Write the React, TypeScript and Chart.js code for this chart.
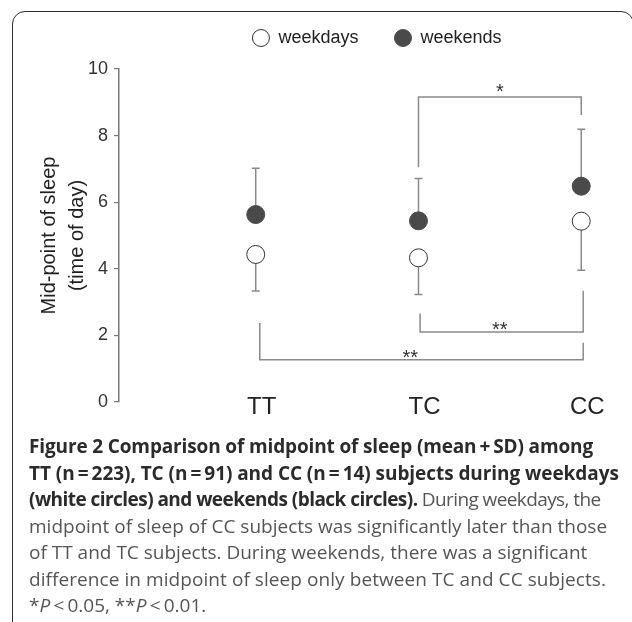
import React, { useEffect, useRef } from "react";
import { Chart, registerables } from "chart.js";

Chart.register(...registerables);

// ---- data ----
const categories = ["TT", "TC", "CC"];
const weekdaysMean = [4.43, 4.33, 5.43];
const weekdaysSD = [1.1, 1.1, 1.47];
const weekendsMean = [5.63, 5.44, 6.48];
const weekendsSD = [1.39, 1.27, 1.71];
const yTickValues = [0, 2, 4, 6, 8, 10];

// significance brackets (x in category-index units, y in axis units)
const bracketLeftX = [1.0, 1.01, 0.025];
const bracketRightX = [2.0, 2.012, 2.012];
const bracketY = [9.16, 2.1, 1.27];
const bracketLeftEnd = [7.05, 2.66, 2.37];
const bracketRightEnd = [8.62, 3.34, 1.78];
const bracketLabel = ["*", "**", "**"];
const bracketLabelX = [1.5, 1.5, 0.95];
const bracketLabelY = [9.47, 2.33, 1.5];

const FONT = "'Liberation Sans', Arial, Helvetica, sans-serif";
const LEGEND_HEIGHT = 76;
const CANVAS_W = 754;
const CANVAS_H = 460;

const legendSpacer = {
  id: "legendSpacer",
  beforeInit(chart: any) {
    const legend = chart.legend;
    if (!legend) return;
    const origFit = legend.fit;
    legend.fit = function () {
      origFit.call(this);
      this.height = LEGEND_HEIGHT;
    };
  },
};

const annotations = {
  id: "annotations",
  beforeDatasetsDraw(chart: any) {
    const { ctx } = chart;
    const x = chart.scales.x;
    const y = chart.scales.y;
    ctx.save();
    ctx.strokeStyle = "#8a8a8a";
    ctx.lineWidth = 1.5;
    const bar = (i: number, mean: number, end: number) => {
      const px = x.getPixelForValue(i);
      const y0 = y.getPixelForValue(mean);
      const y1 = y.getPixelForValue(end);
      ctx.beginPath();
      ctx.moveTo(px, y0);
      ctx.lineTo(px, y1);
      ctx.moveTo(px - 4, y1);
      ctx.lineTo(px + 4, y1);
      ctx.stroke();
    };
    categories.forEach((_, i) => {
      bar(i, weekdaysMean[i], weekdaysMean[i] - weekdaysSD[i]);
      bar(i, weekendsMean[i], weekendsMean[i] + weekendsSD[i]);
    });
    bracketY.forEach((by, k) => {
      const lx = x.getPixelForValue(bracketLeftX[k]);
      const rx = x.getPixelForValue(bracketRightX[k]);
      const py = y.getPixelForValue(by);
      ctx.beginPath();
      ctx.moveTo(lx, y.getPixelForValue(bracketLeftEnd[k]));
      ctx.lineTo(lx, py);
      ctx.lineTo(rx, py);
      ctx.lineTo(rx, y.getPixelForValue(bracketRightEnd[k]));
      ctx.stroke();
      const fs = 20;
      ctx.font = `${fs}px ${FONT}`;
      ctx.fillStyle = "#333";
      ctx.textAlign = "center";
      ctx.textBaseline = "alphabetic";
      ctx.fillText(
        bracketLabel[k],
        x.getPixelForValue(bracketLabelX[k]),
        y.getPixelForValue(bracketLabelY[k]) + 0.58 * fs
      );
    });
    ctx.restore();
  },
};

function SleepChart() {
  const ref = useRef<HTMLCanvasElement | null>(null);
  useEffect(() => {
    if (!ref.current) return;
    const chart = new Chart(ref.current, {
      type: "scatter",
      data: {
        datasets: [
          {
            label: "weekdays",
            data: categories.map((_, i) => ({ x: i, y: weekdaysMean[i] })),
            pointRadius: 9,
            pointHoverRadius: 9,
            pointBackgroundColor: "#ffffff",
            pointBorderColor: "#333333",
            pointBorderWidth: 1,
            backgroundColor: "#ffffff",
            borderColor: "#333333",
            borderWidth: 1,
          },
          {
            label: "weekends",
            data: categories.map((_, i) => ({ x: i, y: weekendsMean[i] })),
            pointRadius: 9,
            pointHoverRadius: 9,
            pointBackgroundColor: "#4a4a4a",
            pointBorderColor: "#4a4a4a",
            pointBorderWidth: 1,
            backgroundColor: "#4a4a4a",
            borderColor: "#4a4a4a",
            borderWidth: 1,
          },
        ],
      },
      options: {
        responsive: false,
        animation: false,
        events: [],
        layout: { padding: 0 },
        plugins: {
          tooltip: { enabled: false },
          legend: {
            display: true,
            position: "top",
            align: "center",
            labels: {
              usePointStyle: true,
              pointStyle: "circle",
              boxHeight: 12,
              boxWidth: 17,
              pointStyleWidth: 17,
              padding: 36,
              color: "#222",
              font: { family: FONT, size: 18 },
            },
          },
        },
        scales: {
          x: {
            type: "linear",
            min: -0.84,
            max: 3.0,
            afterFit: (scale: any) => {
              scale.height = CANVAS_H - 409;
              // labels sit partly above the scale box; do not clip them to it
              scale._computeLabelArea = () => undefined;
            },
            afterBuildTicks: (scale: any) => {
              scale.ticks = categories.map((_, i) => ({ value: i }));
            },
            grid: { display: false, drawTicks: false },
            border: { display: false },
            ticks: {
              padding: -9,
              labelOffset: 6,
              color: "#222",
              font: { family: FONT, size: 24 },
              callback: (v: any) => categories[v as number] ?? "",
            },
          },
          y: {
            type: "linear",
            min: 0,
            max: 10,
            afterFit: (scale: any) => {
              scale.width = 119;
            },
            afterBuildTicks: (scale: any) => {
              scale.ticks = yTickValues.map((v) => ({ value: v }));
            },
            grid: {
              drawOnChartArea: false,
              drawTicks: true,
              tickLength: 5,
              color: "#777",
              lineWidth: 1.2,
            },
            border: { display: true, color: "#777", width: 1.5 },
            ticks: {
              padding: 6,
              color: "#333",
              font: { family: FONT, size: 18 },
            },
            title: {
              display: true,
              text: ["Mid-point of sleep", "(time of day)"],
              color: "#222",
              font: { family: FONT, size: 20, lineHeight: 1.4 },
              padding: { top: 35, bottom: 0 },
            },
          },
        },
      },
      plugins: [legendSpacer, annotations],
    } as any);
    return () => chart.destroy();
  }, []);
  return <canvas ref={ref} width={CANVAS_W} height={CANVAS_H} style={{ display: "block" }} />;
}

const boldStyle: React.CSSProperties = { fontWeight: 700, color: "#2b2b2b" };

export default function App() {
  const lineStyle: React.CSSProperties = { whiteSpace: "nowrap", height: 26.5, lineHeight: "26.5px" };
  return (
    <div
      style={{
        position: "absolute",
        left: 0,
        top: 0,
        width: 632,
        height: 622,
        overflow: "hidden",
        background: "#fff",
      }}
    >
      <div
        style={{
          position: "absolute",
          left: 12,
          top: 11,
          width: 622,
          height: 720,
          border: "1.5px solid #2b2b2b",
          borderRadius: 13,
          boxSizing: "border-box",
        }}
      />
      <div style={{ position: "absolute", left: 0, top: -7, width: CANVAS_W, height: CANVAS_H }}>
        <SleepChart />
      </div>
      <div
        style={{
          position: "absolute",
          left: 29,
          top: 433,
          fontFamily: "'Open Sans', sans-serif",
          fontSize: 19,
          color: "#555",
        }}
      >
        <div style={{ ...lineStyle, ...boldStyle, letterSpacing: "-0.14px" }}>
          Figure 2 Comparison of midpoint of sleep (mean{"\u2009"}+{"\u2009"}SD) among
        </div>
        <div style={{ ...lineStyle, ...boldStyle, letterSpacing: "-0.06px" }}>
          TT (n{"\u2009"}={"\u2009"}223), TC (n{"\u2009"}={"\u2009"}91) and CC (n{"\u2009"}={"\u2009"}14) subjects during weekdays
        </div>
        <div style={lineStyle}>
          <span style={{ ...boldStyle, letterSpacing: "-0.55px" }}>
            (white circles) and weekends (black circles).
          </span>
          <span style={{ letterSpacing: "-0.6px" }}> During weekdays, the</span>
        </div>
        <div style={lineStyle}>midpoint of sleep of CC subjects was significantly later than those</div>
        <div style={lineStyle}>of TT and TC subjects. During weekends, there was a significant</div>
        <div style={{ ...lineStyle, letterSpacing: "0.07px" }}>
          difference in midpoint of sleep only between TC and CC subjects.
        </div>
        <div style={lineStyle}>
          *<i>P</i>{"\u2009"}&lt;{"\u2009"}0.05, **<i>P</i>{"\u2009"}&lt;{"\u2009"}0.01.
        </div>
      </div>
    </div>
  );
}
